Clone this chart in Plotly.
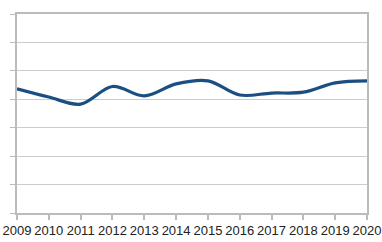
import plotly.graph_objects as go

years = [2009, 2010, 2011, 2012, 2013, 2014, 2015, 2016, 2017, 2018, 2019, 2020]
values = [4.37, 4.08, 3.83, 4.45, 4.12, 4.54, 4.65, 4.15, 4.22, 4.25, 4.58, 4.65]
tick_labels = [str(y) for y in years]

fig = go.Figure()
fig.add_trace(go.Scatter(
    x=years, y=values, mode="lines",
    line=dict(color="#1b4f82", width=3.2, shape="spline", smoothing=1.0),
    hoverinfo="skip",
))

grid = "#cccccc"
fig.update_layout(
    width=382, height=242,
    margin=dict(l=17, r=15, t=14, b=29),
    paper_bgcolor="white", plot_bgcolor="white",
    showlegend=False,
    font=dict(family="Liberation Sans, Arial, sans-serif", size=13, color="#222222"),
    xaxis=dict(
        range=[2009, 2020], tickvals=years, ticktext=tick_labels,
        showgrid=False, zeroline=False, automargin=False, tickangle=0,
        showline=True, linecolor="#bbbbbb", linewidth=1.5, mirror=True,
        ticks="outside", ticklen=5, tickcolor="#bbbbbb", tickwidth=1.5,
        tickfont=dict(size=13, color="#222222"),
    ),
    yaxis=dict(
        range=[0, 7], tickvals=list(range(0, 8)), showticklabels=False,
        showgrid=True, gridcolor=grid, gridwidth=1, zeroline=False, automargin=False,
        showline=True, linecolor="#bbbbbb", linewidth=1.5, mirror=True,
        ticks="outside", ticklen=5, tickcolor="#bbbbbb", tickwidth=1,
    ),
)

fig.write_html("out.html")
